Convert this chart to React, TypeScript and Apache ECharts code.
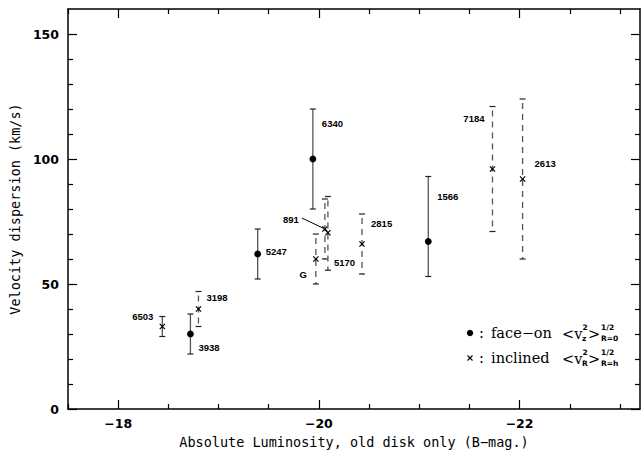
import React, { useEffect, useRef } from 'react';
import * as echarts from 'echarts';

// ---- data ----
const galaxyNames = ['6503', '3938', '3198', '5247', '6340', 'G', '891', '5170', '2815', '1566', '7184', '2613'];
const absMag = [-18.44, -18.72, -18.8, -19.39, -19.94, -19.97, -20.06, -20.09, -20.43, -21.09, -21.73, -22.03];
const dispersion = [33, 30, 40, 62, 100, 60, 72, 70.5, 66, 67, 96, 92];
const errLow = [29, 22, 33, 52, 80, 50, 60, 55.5, 54, 53, 71, 60];
const errHigh = [37, 38, 47, 72, 120, 70, 84, 85, 78, 93, 121, 124];
const orientation = ['inclined', 'face-on', 'inclined', 'face-on', 'face-on', 'inclined', 'inclined', 'inclined', 'inclined', 'face-on', 'inclined', 'inclined'];

const majorXTicks = [-18, -20, -22];
const minorXTicks = [-17.5, -18.5, -19, -19.5, -20.5, -21, -21.5, -22.5, -23];
const majorYTicks = [0, 50, 100, 150];
const minorYTicks = [10, 20, 30, 40, 60, 70, 80, 90, 110, 120, 130, 140];

// ---- styles / label placement (not data) ----
const barDash = ['solid', 'solid', 'dashed', 'solid', 'solid', 'dashed', 'dashed', 'dashed', 'dashed', 'solid', 'dashed', 'dashed'];
const labelOffsets: [number, number, string][] = [
  [-9, -10.5, 'right'],
  [8, 13, 'left'],
  [8, -12, 'left'],
  [8, -3, 'left'],
  [9, -36, 'left'],
  [-9, 15, 'right'],
  [-26, -10, 'right'],
  [6, 30, 'left'],
  [9, -21, 'left'],
  [9, -45.5, 'left'],
  [-8, -51, 'right'],
  [12, -16, 'left'],
];
const leaderLines: Record<string, [number, number]> = { '891': [-23, -11] };

const minus = (v: number) => String(v).replace('-', '\u2212');

const titleFont = 'DejaVu Sans Mono';

function makeX(position: 'top' | 'bottom', values: number[], len: number, labels: boolean, line: boolean, extra: any = {}) {
  return {
    type: 'value',
    gridIndex: 0,
    position,
    min: -23.2,
    max: -17.5,
    inverse: true,
    splitLine: { show: false },
    axisLine: { show: line, onZero: false, lineStyle: { color: '#000', width: 1.5 } },
    axisTick: { show: true, inside: true, length: len, customValues: values, lineStyle: { color: '#000', width: 1.2 } },
    axisLabel: labels
      ? {
          show: true,
          customValues: values,
          formatter: minus,
          color: '#000',
          fontFamily: 'DejaVu Sans',
          fontWeight: 'bold',
          fontSize: 12.5,
          margin: 8,
        }
      : { show: false, customValues: values },
    ...extra,
  };
}

function makeY(position: 'left' | 'right', values: number[], len: number, labels: boolean, line: boolean, extra: any = {}) {
  return {
    type: 'value',
    gridIndex: 0,
    position,
    min: 0,
    max: 160,
    splitLine: { show: false },
    axisLine: { show: line, onZero: false, lineStyle: { color: '#000', width: 1.5 } },
    axisTick: { show: true, inside: true, length: len, customValues: values, lineStyle: { color: '#000', width: 1.2 } },
    axisLabel: labels
      ? {
          show: true,
          customValues: values,
          color: '#000',
          fontFamily: 'DejaVu Sans',
          fontWeight: 'bold',
          fontSize: 12.5,
          margin: 9,
        }
      : { show: false, customValues: values },
    ...extra,
  };
}

const serif = '"DejaVu Serif"';
const smallSans = 'bold 7.5px "DejaVu Sans"';

function legendRow(y: number, word: string, sub: string, lower: string) {
  return [
    { type: 'text', x: 479, y, style: { text: ':', font: `14.5px ${serif}`, fill: '#000', verticalAlign: 'middle' } },
    { type: 'text', x: 491, y, style: { text: word, font: `14.5px ${serif}`, fill: '#000', verticalAlign: 'middle' } },
    { type: 'text', x: 562, y: y + 1, style: { text: '<v', font: `14.5px ${serif}`, fill: '#000', verticalAlign: 'middle' } },
    { type: 'text', x: 582.5, y: y - 5.5, style: { text: '2', font: smallSans, fill: '#000', verticalAlign: 'middle' } },
    { type: 'text', x: 582, y: y + 5, style: { text: sub, font: smallSans, fill: '#000', verticalAlign: 'middle' } },
    { type: 'text', x: 588, y: y + 1, style: { text: '>', font: `14.5px ${serif}`, fill: '#000', verticalAlign: 'middle' } },
    { type: 'text', x: 601, y: y - 5.5, style: { text: '1/2', font: smallSans, fill: '#000', verticalAlign: 'middle' } },
    { type: 'text', x: 601, y: y + 5, style: { text: lower, font: smallSans, fill: '#000', verticalAlign: 'middle' } },
  ];
}

export default function App() {
  const ref = useRef<HTMLDivElement>(null);
  useEffect(() => {
    if (!ref.current) return;
    const chart = echarts.init(ref.current, undefined, { renderer: 'svg' });
    const seriesData = absMag.map((m, i) => [m, dispersion[i], errLow[i], errHigh[i]]);

    const option: any = {
      animation: false,
      backgroundColor: '#fff',
      grid: { left: 68, right: 3, top: 9, bottom: 47, containLabel: false },
      xAxis: [
        makeX('bottom', majorXTicks, 9, true, true, {
          name: 'Absolute Luminosity, old disk only (B\u2212mag.)',
          nameLocation: 'middle',
          nameGap: 26,
          nameTextStyle: { color: '#000', fontFamily: titleFont, fontSize: 13.5 },
        }),
        makeX('bottom', minorXTicks, 5, false, false),
        makeX('top', majorXTicks, 9, false, true),
        makeX('top', minorXTicks, 5, false, false),
      ],
      yAxis: [
        makeY('left', majorYTicks, 9, true, true, {
          name: 'Velocity dispersion (km/s)',
          nameLocation: 'middle',
          nameGap: 44,
          nameTextStyle: { color: '#000', fontFamily: titleFont, fontSize: 13.5 },
        }),
        makeY('left', minorYTicks, 5, false, false),
        makeY('right', majorYTicks, 9, false, true),
        makeY('right', minorYTicks, 5, false, false),
      ],
      series: [
        {
          type: 'custom',
          xAxisIndex: 0,
          yAxisIndex: 0,
          data: seriesData,
          encode: { x: 0, y: 1 },
          renderItem: (params: any, api: any) => {
            const i = params.dataIndex;
            const x = api.value(0);
            const y = api.value(1);
            const p = api.coord([x, y]);
            const a = api.coord([x, api.value(3)]);
            const b = api.coord([x, api.value(2)]);
            const dashed = barDash[i] === 'dashed';
            const children: any[] = [
              {
                type: 'line',
                shape: { x1: a[0], y1: a[1], x2: b[0], y2: b[1] },
                style: { stroke: '#555', lineWidth: 1.3, lineDash: dashed ? [6, 5] : undefined, lineDashOffset: dashed ? -4 : 0 },
              },
              { type: 'line', shape: { x1: a[0] - 3, y1: a[1], x2: a[0] + 3, y2: a[1] }, style: { stroke: '#222', lineWidth: 1.2 } },
              { type: 'line', shape: { x1: b[0] - 3, y1: b[1], x2: b[0] + 3, y2: b[1] }, style: { stroke: '#222', lineWidth: 1.2 } },
            ];
            if (orientation[i] === 'face-on') {
              children.push({ type: 'circle', shape: { cx: p[0], cy: p[1], r: 3.4 }, style: { fill: '#000' } });
            } else {
              const s = 2.6;
              children.push({ type: 'line', shape: { x1: p[0] - s, y1: p[1] - s, x2: p[0] + s, y2: p[1] + s }, style: { stroke: '#000', lineWidth: 1.2 } });
              children.push({ type: 'line', shape: { x1: p[0] - s, y1: p[1] + s, x2: p[0] + s, y2: p[1] - s }, style: { stroke: '#000', lineWidth: 1.2 } });
            }
            const [dx, dy, align] = labelOffsets[i];
            children.push({
              type: 'text',
              x: p[0] + dx,
              y: p[1] + dy,
              style: { text: galaxyNames[i], font: 'bold 9.5px "Liberation Sans"', fill: '#000', align, verticalAlign: 'middle' },
            });
            const lead = leaderLines[galaxyNames[i]];
            if (lead) {
              children.push({
                type: 'line',
                shape: { x1: p[0] + lead[0], y1: p[1] + lead[1], x2: p[0] - 1, y2: p[1] - 0.5 },
                style: { stroke: '#000', lineWidth: 1 },
              });
            }
            return { type: 'group', children };
          },
        },
      ],
      graphic: [
        { type: 'circle', shape: { cx: 470, cy: 333, r: 3.2 }, style: { fill: '#000' } },
        { type: 'line', shape: { x1: 467.5, y1: 355.5, x2: 472.5, y2: 360.5 }, style: { stroke: '#000', lineWidth: 1.1 } },
        { type: 'line', shape: { x1: 467.5, y1: 360.5, x2: 472.5, y2: 355.5 }, style: { stroke: '#000', lineWidth: 1.1 } },
        ...legendRow(333, 'face\u2212on', 'z', 'R=0'),
        ...legendRow(358, 'inclined', 'R', 'R=h'),
      ],
    };
    chart.setOption(option);
    return () => chart.dispose();
  }, []);
  return <div ref={ref} style={{ position: 'absolute', left: 0, top: 0, width: 643, height: 456, background: '#fff' }} />;
}
